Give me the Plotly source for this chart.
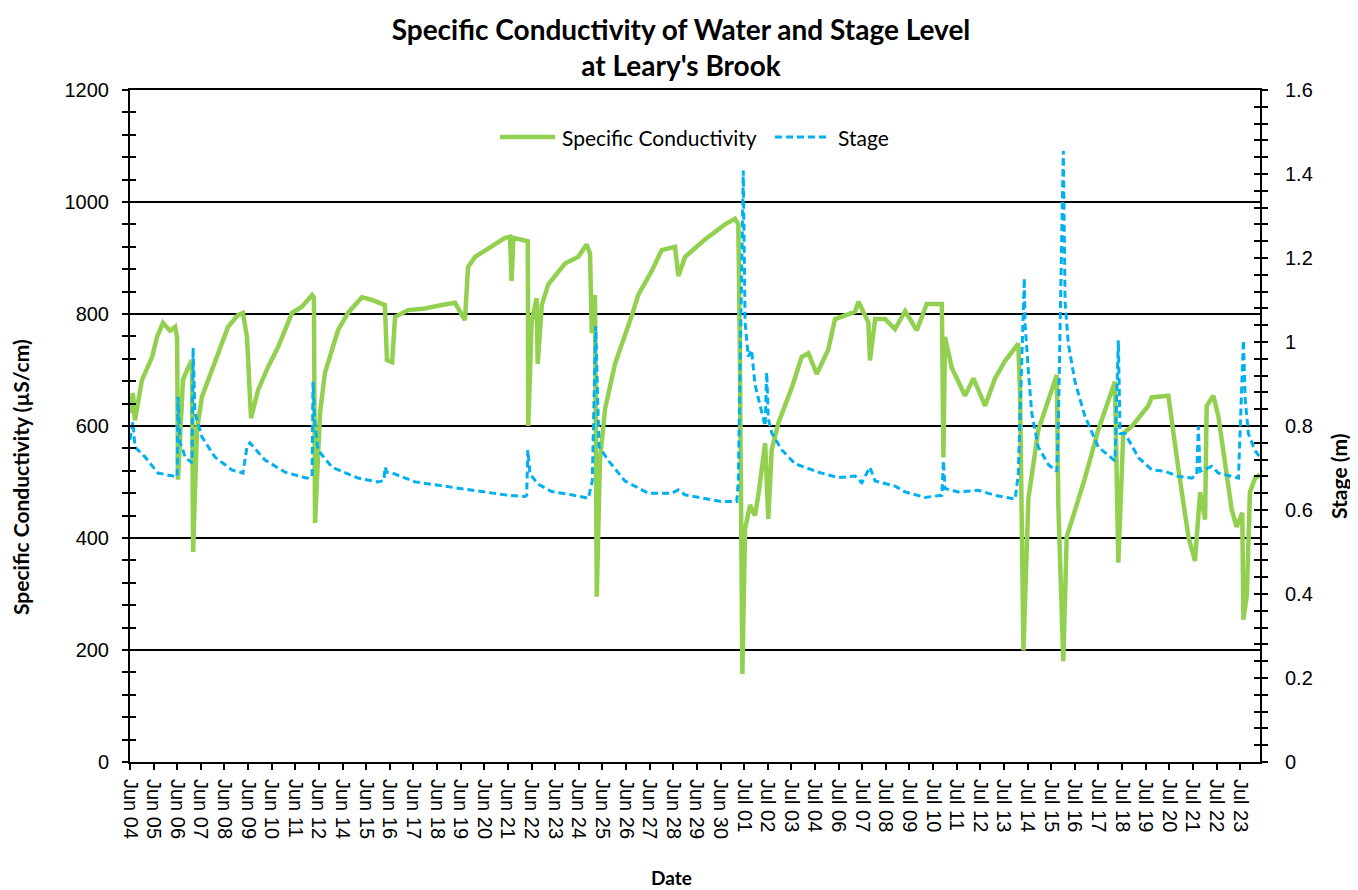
import plotly.graph_objects as go
import pandas as pd

BASE = pd.Timestamp("2013-06-04")

# Specific conductivity (uS/cm); time in days since Jun 04 00:00
cond_day = [0.59, 0.72, 0.81, 1.12, 1.57, 1.79, 2.05, 2.37, 2.59, 2.68, 2.72, 2.94, 3.12, 3.34, 3.39,
            3.56, 3.78, 4.36, 4.94, 5.38, 5.60, 5.78, 5.96, 6.27, 6.71, 7.16, 7.78, 8.22, 8.67, 8.75,
            8.80, 9.02, 9.24, 9.82, 10.26, 10.88, 11.33, 11.90, 11.99, 12.22, 12.35, 12.93, 13.68,
            14.43, 15.01, 15.45, 15.59, 15.90, 16.65, 17.10, 17.23, 17.45, 17.52, 17.60, 18.12, 18.24,
            18.26, 18.34, 18.41, 18.63, 18.68, 18.86, 19.15, 19.89, 20.48, 20.85, 21.00, 21.08, 21.22,
            21.30, 21.44, 21.67, 22.11, 22.85, 23.14, 23.74, 24.18, 24.77, 24.92, 25.22, 26.10, 26.99,
            27.43, 27.58, 27.65, 27.76, 27.88, 28.10, 28.32, 28.47, 28.77, 28.91, 29.06, 29.36, 29.95,
            30.39, 30.69, 31.06, 31.57, 31.87, 32.76, 32.91, 33.35, 33.42, 33.65, 34.09, 34.53, 34.98,
            35.50, 35.94, 36.61, 36.68, 36.75, 37.05, 37.64, 38.01, 38.53, 38.97, 39.41, 40.00, 40.08,
            40.23, 40.45, 40.89, 41.71, 41.78, 42.00, 42.15, 42.96, 43.55, 44.29, 44.44, 44.66, 45.03,
            45.77, 45.92, 46.66, 47.10, 47.55, 47.84, 48.07, 48.29, 48.36, 48.66, 48.88, 49.47, 49.69,
            49.94, 49.99, 50.14, 50.28, 50.51, 50.73]
cond_value = [623, 659, 610, 682, 723, 759, 784, 770, 777, 757, 504, 682, 700, 718, 375,
              593, 652, 712, 777, 798, 802, 759, 614, 664, 705, 741, 802, 813, 834, 830,
              427, 623, 695, 771, 802, 830, 825, 816, 718, 714, 795, 807, 810,
              816, 820, 789, 884, 902, 920, 932, 936, 938, 859, 936, 930, 930,
              600, 700, 785, 828, 711, 816, 853, 890, 902, 924, 908, 766, 834,
              295, 539, 631, 711, 797, 834, 877, 914, 920, 868, 902, 933, 960,
              970, 960, 730, 157, 416, 459, 440, 477, 569, 434, 557, 606, 668,
              723, 730, 693, 736, 791, 804, 822, 785, 717, 791, 791, 773, 805,
              771, 818, 818, 544, 759, 704, 654, 685, 636, 685, 716, 747, 661,
              199, 470, 593, 691, 457, 180, 402, 507, 593, 679, 356, 587, 599,
              636, 651, 654, 525, 402, 359, 482, 433, 636, 654, 617, 451, 420,
              445, 254, 297, 482, 507, 513]

# Stage (m)
stage_day = [0.59, 0.68, 0.72, 0.81, 1.26, 1.83, 2.28, 2.68, 2.72, 2.81, 2.90, 3.03, 3.34, 3.39, 3.47,
             3.78, 4.36, 5.12, 5.60, 5.78, 5.91, 6.58, 7.47, 8.44, 8.67, 8.71, 8.80, 8.93, 9.55, 10.71,
             11.59, 11.86, 11.90, 11.99, 12.22, 13.24, 15.14, 16.65, 17.23, 18.12, 18.19, 18.24, 18.34,
             18.71, 19.30, 20.19, 20.93, 21.10, 21.25, 21.40, 21.81, 22.55, 23.59, 24.63, 24.92, 25.22,
             26.10, 26.84, 27.51, 27.58, 27.80, 27.85, 27.88, 28.02, 28.17, 28.32, 28.62, 28.77, 28.84,
             28.91, 29.06, 29.51, 30.10, 31.13, 32.02, 32.76, 33.06, 33.42, 33.65, 34.53, 34.98, 35.86,
             36.61, 36.68, 36.75, 37.34, 38.23, 38.97, 39.86, 40.00, 40.27, 40.30, 40.45, 40.60, 40.89,
             41.34, 41.71, 41.78, 42.00, 42.03, 42.08, 42.22, 42.52, 42.96, 43.55, 44.29, 44.44, 44.52,
             44.74, 45.33, 45.92, 46.51, 47.10, 47.70, 47.92, 47.99, 48.07, 48.58, 48.88, 49.77, 49.99,
             50.07, 50.21, 50.51, 50.81]
stage_value = [0.767, 0.80, 0.81, 0.75, 0.726, 0.688, 0.683, 0.679, 0.869, 0.76, 0.75, 0.726, 0.712, 0.986, 0.831,
               0.774, 0.726, 0.695, 0.688, 0.75, 0.76, 0.719, 0.69, 0.676, 0.68, 0.905, 0.80, 0.743, 0.702, 0.676,
               0.667, 0.67, 0.702, 0.69, 0.688, 0.667, 0.652, 0.64, 0.636, 0.632, 0.635, 0.743, 0.685,
               0.661, 0.644, 0.636, 0.628, 0.669, 1.038, 0.751, 0.718, 0.669, 0.640, 0.640, 0.648, 0.636,
               0.628, 0.62, 0.62, 0.669, 1.408, 1.203, 1.047, 0.965, 0.981, 0.899, 0.833, 0.80, 0.928,
               0.817, 0.784, 0.743, 0.71, 0.69, 0.677, 0.681, 0.665, 0.702, 0.669, 0.657, 0.643, 0.63,
               0.635, 0.717, 0.651, 0.643, 0.647, 0.635, 0.626, 0.684, 1.152, 1.045, 0.93, 0.831, 0.75,
               0.708, 0.692, 0.807, 1.455, 1.34, 1.094, 0.996, 0.905, 0.823, 0.75, 0.717, 1.004, 0.782,
               0.782, 0.725, 0.696, 0.692, 0.68, 0.676, 0.684, 0.799, 0.692, 0.704, 0.688, 0.676, 1.004,
               0.864, 0.782, 0.741, 0.72]

x_tick_labels = ["Jun 04", "Jun 05", "Jun 06", "Jun 07", "Jun 08", "Jun 09", "Jun 10", "Jun 11", "Jun 12",
                 "Jun 14", "Jun 15", "Jun 16", "Jun 17", "Jun 18", "Jun 19", "Jun 20", "Jun 21", "Jun 22",
                 "Jun 23", "Jun 24", "Jun 25", "Jun 26", "Jun 27", "Jun 28", "Jun 29", "Jun 30",
                 "Jul 01", "Jul 02", "Jul 03", "Jul 04", "Jul 06", "Jul 07", "Jul 08", "Jul 09", "Jul 10",
                 "Jul 11", "Jul 12", "Jul 13", "Jul 14", "Jul 15", "Jul 16", "Jul 17", "Jul 18", "Jul 19",
                 "Jul 20", "Jul 21", "Jul 22", "Jul 23"]
TICK_START_DAY = 0.59
TICK_STEP_DAY = 1.048
VISIBLE_STEPS = 47.84

SERIES_NAMES = ["Specific Conductivity", "Stage"]
GREEN = "#92D050"
BLUE = "#00B0F0"


def to_dt(days):
    return [BASE + pd.Timedelta(days=float(d)) for d in days]


tick_days = [TICK_START_DAY + i * TICK_STEP_DAY for i in range(len(x_tick_labels))]
x_range = to_dt([TICK_START_DAY, TICK_START_DAY + VISIBLE_STEPS * TICK_STEP_DAY])

LABEL_FONT = "Lato"
TICK_FONT = "Liberation Sans"
# page body has an 8px margin; figure sized so the plot area lands at x 130-1260, y 90-762
W, H = 1350, 882
PLOT_L, PLOT_R, PLOT_T, PLOT_B = 130, 1260, 90, 762


def px_x(px):
    return (px - PLOT_L) / (PLOT_R - PLOT_L)


def px_y(py):
    return (PLOT_B - py) / (PLOT_B - PLOT_T)


green_line = dict(color=GREEN, width=4.5)
blue_line = dict(color=BLUE, width=3, dash="7px,4px")

fig = go.Figure()
fig.add_trace(go.Scatter(x=to_dt(cond_day), y=cond_value, name=SERIES_NAMES[0], mode="lines",
                         line=green_line, yaxis="y", showlegend=False))
fig.add_trace(go.Scatter(x=to_dt(stage_day), y=stage_value, name=SERIES_NAMES[1], mode="lines",
                         line=blue_line, yaxis="y2", showlegend=False))
# helper traces so the cross-tick overlay axes are drawn
fig.add_trace(go.Scatter(x=[x_range[0]], y=[None], yaxis="y3", showlegend=False, hoverinfo="skip"))
fig.add_trace(go.Scatter(x=[x_range[0]], y=[None], yaxis="y4", showlegend=False, hoverinfo="skip"))

tickfont = dict(family=TICK_FONT, size=20, color="black")
legend_font = dict(family=LABEL_FONT, size=21, color="black")

fig.update_layout(
    width=W, height=H,
    paper_bgcolor="white", plot_bgcolor="white",
    margin=dict(l=PLOT_L - 8, r=W + 8 - PLOT_R, t=PLOT_T - 8, b=H + 8 - PLOT_B),
    title=dict(text="<b>Specific Conductivity of Water and Stage Level<br>at Leary's Brook</b>",
               x=(681 - 8) / W, xref="container", xanchor="center", y=1 - (40 - 8) / H, yanchor="middle",
               font=dict(family=LABEL_FONT, size=28, color="black")),
    showlegend=False,
    xaxis=dict(type="date", range=x_range, tickmode="array", tickvals=to_dt(tick_days), ticktext=x_tick_labels,
               tickangle=90, ticks="outside", ticklen=6, tickcolor="black", tickwidth=1.5, ticklabelstandoff=5,
               showline=True, linecolor="black", linewidth=2, mirror=True, showgrid=False, zeroline=False,
               tickfont=tickfont),
    yaxis=dict(range=[0, 1200], tick0=0, dtick=200, ticks="outside", ticklen=6, tickcolor="black",
               tickwidth=1.5, ticklabelstandoff=9,
               minor=dict(dtick=40, ticks="outside", ticklen=6, tickcolor="black", tickwidth=1.5, showgrid=False),
               showgrid=True, gridcolor="black", gridwidth=1.5, showline=True, linecolor="black", linewidth=2,
               zeroline=False, tickfont=tickfont),
    yaxis2=dict(range=[0, 1.6], tick0=0, dtick=0.2, overlaying="y", side="right", anchor="x",
                ticks="outside", ticklen=6, tickcolor="black", tickwidth=1.5, ticklabelstandoff=13,
                minor=dict(dtick=0.04, ticks="outside", ticklen=6, tickcolor="black", tickwidth=1.5,
                           showgrid=False),
                showgrid=False, showline=True, linecolor="black", linewidth=2, zeroline=False,
                tickfont=tickfont),
    yaxis3=dict(range=[0, 1200], dtick=200, overlaying="y", side="left", anchor="x",
                ticks="inside", ticklen=6, tickcolor="black", tickwidth=1.5, showticklabels=False,
                minor=dict(dtick=40, ticks="inside", ticklen=6, tickcolor="black", tickwidth=1.5, showgrid=False),
                showgrid=False, showline=False, zeroline=False),
    yaxis4=dict(range=[0, 1.6], dtick=0.2, overlaying="y", side="right", anchor="x",
                ticks="inside", ticklen=6, tickcolor="black", tickwidth=1.5, showticklabels=False,
                minor=dict(dtick=0.04, ticks="inside", ticklen=6, tickcolor="black", tickwidth=1.5,
                           showgrid=False),
                showgrid=False, showline=False, zeroline=False),
    shapes=[
        dict(type="line", xref="paper", yref="paper", x0=px_x(500), x1=px_x(555), y0=px_y(137), y1=px_y(137),
             line=green_line),
        dict(type="line", xref="paper", yref="paper", x0=px_x(775), x1=px_x(830), y0=px_y(137), y1=px_y(137),
             line=blue_line),
    ],
    annotations=[
        dict(text=SERIES_NAMES[0], xref="paper", yref="paper", x=px_x(560), y=px_y(137),
             xanchor="left", yanchor="middle", showarrow=False, font=legend_font),
        dict(text=SERIES_NAMES[1], xref="paper", yref="paper", x=px_x(836), y=px_y(137),
             xanchor="left", yanchor="middle", showarrow=False, font=legend_font),
        dict(text="<b>Specific Conductivity (µS/cm)</b>", textangle=-90, xref="paper", yref="paper",
             x=px_x(20), y=px_y(477), xanchor="center", yanchor="middle", showarrow=False,
             font=dict(family=LABEL_FONT, size=21, color="black")),
        dict(text="<b>Stage (m)</b>", textangle=-90, xref="paper", yref="paper",
             x=px_x(1338), y=px_y(477), xanchor="center", yanchor="middle", showarrow=False,
             font=dict(family=LABEL_FONT, size=21, color="black")),
        dict(text="<b>Date</b>", xref="paper", yref="paper",
             x=px_x(671), y=px_y(877), xanchor="center", yanchor="middle", showarrow=False,
             font=dict(family=LABEL_FONT, size=19, color="black")),
    ],
)

fig.write_html("out.html")
